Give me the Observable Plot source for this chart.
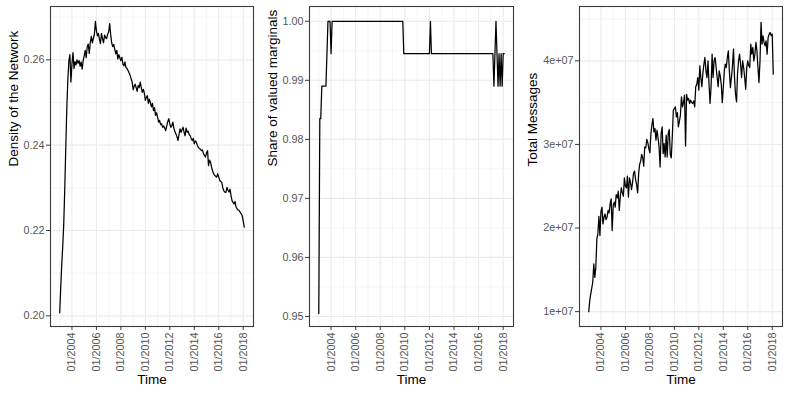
<!DOCTYPE html>
<html>
<head>
<meta charset="utf-8">
<script src="https://cdn.jsdelivr.net/npm/d3@7"></script>
<script src="https://cdn.jsdelivr.net/npm/@observablehq/plot@0.6"></script>
<style>
  html, body { margin: 0; padding: 0; background: #ffffff; }
  #wrap { position: relative; width: 789px; height: 395px; overflow: hidden; background: #fff; }
  .panel { position: absolute; top: 0; }
</style>
</head>
<body>
<div id="wrap"></div>
<script>
// ---- Data (monthly, January 2003 onward) ----
const startYear = 2003;

const density = [
  0.2007, 0.2068, 0.2118, 0.2163, 0.2215, 0.2300, 0.2395, 0.2488, 0.2555, 0.2598, 0.2612, 0.2548,
  0.2590, 0.2617, 0.2580, 0.2596, 0.2588, 0.2600, 0.2592, 0.2598, 0.2585, 0.2595, 0.2578, 0.2598,
  0.2610, 0.2622, 0.2605, 0.2630, 0.2637, 0.2615, 0.2640, 0.2655, 0.2640, 0.2650, 0.2660, 0.2690,
  0.2668, 0.2656, 0.2662, 0.2648, 0.2638, 0.2662, 0.2650, 0.2640, 0.2658, 0.2652, 0.2650, 0.2660,
  0.2665, 0.2685, 0.2660, 0.2640, 0.2631, 0.2636, 0.2625, 0.2614, 0.2622, 0.2602, 0.2612, 0.2605,
  0.2598, 0.2606, 0.2590, 0.2586, 0.2595, 0.2582, 0.2580, 0.2575, 0.2570, 0.2564, 0.2556, 0.2548,
  0.2530, 0.2538, 0.2543, 0.2535, 0.2526, 0.2540, 0.2535, 0.2548, 0.2535, 0.2524, 0.2531, 0.2522,
  0.2505, 0.2512, 0.2516, 0.2498, 0.2508, 0.2500, 0.2490, 0.2498, 0.2481, 0.2488, 0.2470, 0.2476,
  0.2465, 0.2454, 0.2458, 0.2448, 0.2450, 0.2442, 0.2445, 0.2440, 0.2434, 0.2445, 0.2455, 0.2462,
  0.2450, 0.2442, 0.2445, 0.2454, 0.2440, 0.2432, 0.2426, 0.2420, 0.2411, 0.2425, 0.2438, 0.2430,
  0.2436, 0.2442, 0.2430, 0.2422, 0.2440, 0.2430, 0.2433, 0.2425, 0.2422, 0.2415, 0.2411, 0.2416,
  0.2403, 0.2410, 0.2407, 0.2400, 0.2395, 0.2392, 0.2391, 0.2387, 0.2389, 0.2380, 0.2376, 0.2372,
  0.2382, 0.2387, 0.2352, 0.2365, 0.2360, 0.2348, 0.2340, 0.2333, 0.2329, 0.2327, 0.2325, 0.2333,
  0.2325, 0.2317, 0.2315, 0.2313, 0.2300, 0.2293, 0.2290, 0.2289, 0.2301, 0.2295, 0.2290, 0.2297,
  0.2282, 0.2270, 0.2266, 0.2262, 0.2268, 0.2255, 0.2251, 0.2248, 0.2247, 0.2243, 0.2239, 0.2235,
  0.2222, 0.2208
];

const shareValued = [
  0.9505, 0.9835, 0.9835, 0.989, 0.989, 0.989, 0.989, 0.989, 0.9945, 1, 1, 1,
  0.9945, 1, 1, 1, 1, 1, 1, 1, 1, 1, 1, 1,
  1, 1, 1, 1, 1, 1, 1, 1, 1, 1, 1, 1,
  1, 1, 1, 1, 1, 1, 1, 1, 1, 1, 1, 1,
  1, 1, 1, 1, 1, 1, 1, 1, 1, 1, 1, 1,
  1, 1, 1, 1, 1, 1, 1, 1, 1, 1, 1, 1,
  1, 1, 1, 1, 1, 1, 1, 1, 1, 1, 1, 0.9945,
  0.9945, 0.9945, 0.9945, 0.9945, 0.9945, 0.9945, 0.9945, 0.9945, 0.9945, 0.9945, 0.9945, 0.9945,
  0.9945, 0.9945, 0.9945, 0.9945, 0.9945, 0.9945, 0.9945, 0.9945, 0.9945, 0.9945, 0.9945, 0.9945,
  0.9945, 1, 0.9945, 0.9945, 0.9945, 0.9945, 0.9945, 0.9945, 0.9945, 0.9945, 0.9945, 0.9945,
  0.9945, 0.9945, 0.9945, 0.9945, 0.9945, 0.9945, 0.9945, 0.9945, 0.9945, 0.9945, 0.9945, 0.9945,
  0.9945, 0.9945, 0.9945, 0.9945, 0.9945, 0.9945, 0.9945, 0.9945, 0.9945, 0.9945, 0.9945, 0.9945,
  0.9945, 0.9945, 0.9945, 0.9945, 0.9945, 0.9945, 0.9945, 0.9945, 0.9945, 0.9945, 0.9945, 0.9945,
  0.9945, 0.9945, 0.9945, 0.9945, 0.9945, 0.9945, 0.9945, 0.9945, 0.9945, 0.9945, 0.9945, 0.9945,
  0.9945, 0.9945, 0.9945, 0.989, 0.9945, 1, 0.9945, 0.989, 0.9945, 0.989, 0.9945, 0.989,
  0.9945, 0.9945
];

// total messages, in millions
const messagesMillions = [
  10.0, 11.3, 12.1, 12.8, 13.5, 15.7, 14.1, 15.3, 18.7, 19.3, 21.4, 19.1,
  22.0, 22.5, 20.5, 21.3, 21.7, 21.0, 21.3, 22.1, 21.8, 22.9, 23.5, 19.7,
  22.7, 23.1, 22.5, 24.0, 23.6, 24.4, 22.1, 23.8, 24.8, 24.2, 23.8, 26.0,
  25.0, 24.8, 26.2, 23.7, 26.0, 25.5, 24.6, 25.4, 26.6, 26.8, 25.8, 25.2,
  24.2, 26.6, 27.6, 28.0, 28.8, 28.4, 27.4, 29.7, 29.6, 30.6, 30.2, 29.5,
  29.0, 31.3, 32.3, 33.1, 31.5, 31.9, 30.5, 31.7, 30.8, 29.7, 27.3, 31.3,
  32.1, 28.9, 30.1, 28.5, 31.1, 28.5, 31.3, 31.8, 28.8, 28.4, 31.0, 34.1,
  34.3, 34.5, 33.3, 33.8, 32.1, 32.8, 33.5, 35.7, 34.5, 35.0, 35.9, 29.8,
  36.0, 35.3, 35.5, 34.9, 35.3, 35.0, 34.9, 35.2, 34.5, 36.9, 37.2, 38.0,
  36.5, 39.4, 38.0, 36.9, 38.5, 39.6, 40.4, 38.8, 38.0, 40.0, 37.2, 34.9,
  36.9, 40.8, 38.0, 40.0, 40.4, 39.2, 38.0, 36.9, 38.8, 38.2, 37.2, 35.0,
  36.8, 38.8, 39.6, 39.2, 40.4, 41.2, 38.8, 36.8, 38.0, 39.4, 41.4, 38.0,
  36.0, 35.1, 38.4, 40.0, 40.8, 39.6, 38.0, 40.0, 39.2, 38.0, 36.6, 39.2,
  40.0, 39.4, 39.2, 42.0, 40.8, 41.6, 40.0, 40.8, 42.2, 41.2, 39.2, 37.4,
  40.0, 44.6, 42.0, 43.0, 42.2, 41.8, 42.4, 40.8, 42.8, 43.2, 43.4, 43.0,
  43.2, 38.4
];

const xTickYears = [2004, 2006, 2008, 2010, 2012, 2014, 2016, 2018];
const xMinorYears = [2003, 2005, 2007, 2009, 2011, 2013, 2015, 2017];

const densityTicks = [0.20, 0.22, 0.24, 0.26];
const densityMinor = [0.21, 0.23, 0.25, 0.27];
const shareTicks = [0.95, 0.96, 0.97, 0.98, 0.99, 1.00];
const shareMinor = [0.955, 0.965, 0.975, 0.985, 0.995];
const messageTicks = [1e7, 2e7, 3e7, 4e7];
const messageMinor = [1.5e7, 2.5e7, 3.5e7, 4.5e7];

const yLabels = ["Density of the Network", "Share of valued marginals", "Total Messages"];
const xLabel = "Time";

// ---- Build ----
const dateOf = (i) => new Date(Date.UTC(startYear, i, 1));
const toRows = (vals) => vals.map((v, i) => ({date: dateOf(i), value: v}));

const t0 = dateOf(0).getTime();
const t1 = dateOf(density.length - 1).getTime();
const span = t1 - t0;
const xDomain = [new Date(t0 - 0.05 * span), new Date(t1 + 0.05 * span)];
const xTicks = xTickYears.map(y => new Date(Date.UTC(y, 0, 1)));
const xMinor = xMinorYears.map(y => new Date(Date.UTC(y, 0, 1)));
const fmtDate = d3.utcFormat("%m/%Y");

const gridColor = "#ebebeb";
const inkColor = "#3a3a3a";
const tickText = "#555555";

function panel({rows, yDomain, yTicks, yMinor, yFormat, yLabel, left, width, ml, mr, labelDx}) {
  const chart = Plot.plot({
    width, height: 395,
    marginTop: 6, marginBottom: 69, marginLeft: ml, marginRight: mr,
    style: {fontFamily: "'Liberation Sans', Arial, sans-serif", fontSize: "10.8px", background: "transparent", color: tickText, overflow: "visible"},
    x: {type: "utc", domain: xDomain},
    y: {domain: yDomain},
    marks: [
      Plot.ruleX(xMinor, {stroke: gridColor, strokeWidth: 0.55}),
      Plot.ruleY(yMinor, {stroke: gridColor, strokeWidth: 0.55}),
      Plot.ruleX(xTicks, {stroke: gridColor, strokeWidth: 1.1}),
      Plot.ruleY(yTicks, {stroke: gridColor, strokeWidth: 1.1}),
      Plot.line(rows, {x: "date", y: "value", stroke: "#000000", strokeWidth: 1.25}),
      Plot.frame({stroke: inkColor, strokeWidth: 1.1}),
      Plot.axisX({ticks: xTicks, tickFormat: fmtDate, tickRotate: -90, tickSize: 4, tickPadding: 2, label: null, stroke: inkColor, fill: tickText}),
      Plot.axisY({ticks: yTicks, tickFormat: yFormat, tickSize: 4, tickPadding: 2, label: null, stroke: inkColor, fill: tickText}),
      Plot.text([yLabel], {frameAnchor: "left", dx: labelDx, rotate: -90, fontSize: 13.5, fill: "#000000", text: d => d}),
      Plot.text([xLabel], {frameAnchor: "bottom", dy: 57, fontSize: 13.5, fill: "#000000", text: d => d})
    ]
  });
  const div = document.createElement("div");
  div.className = "panel";
  div.style.left = left + "px";
  div.appendChild(chart);
  document.getElementById("wrap").appendChild(div);
}

panel({
  rows: toRows(density), yDomain: [0.1975, 0.2725], yTicks: densityTicks, yMinor: densityMinor,
  yFormat: d3.format(".2f"), yLabel: yLabels[0], left: 0, width: 263, ml: 50, mr: 10, labelDx: -37
});
panel({
  rows: toRows(shareValued), yDomain: [0.9483, 1.0025], yTicks: shareTicks, yMinor: shareMinor,
  yFormat: d3.format(".2f"), yLabel: yLabels[1], left: 263, width: 263, ml: 46, mr: 13, labelDx: -36.6
});
panel({
  rows: toRows(messagesMillions.map(v => v * 1e6)), yDomain: [0.822e7, 4.65e7], yTicks: messageTicks, yMinor: messageMinor,
  yFormat: d => (d / 1e7) + "e+07", yLabel: yLabels[2], left: 526, width: 263, ml: 53, mr: 7, labelDx: -46.6
});
</script>
</body>
</html>
